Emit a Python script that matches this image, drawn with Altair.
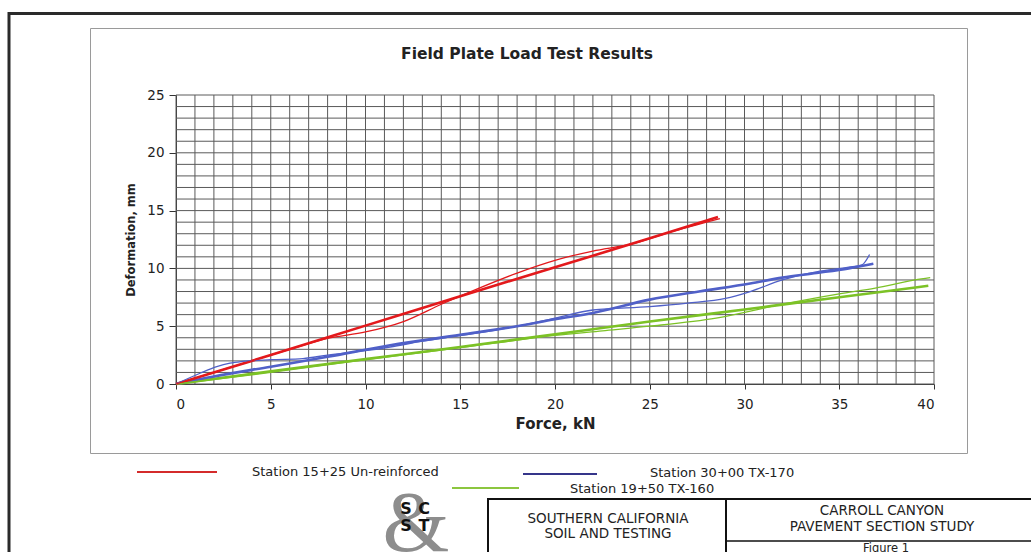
import altair as alt
import pandas as pd

# ---- measured load / deformation curves (force in kN, deformation in mm) ----
# Station 15+25, un-reinforced: two load runs
s1525_a_force = [0, 5, 10, 15, 20, 25, 28.6]
s1525_a_defl = [0, 2.5, 5.05, 7.6, 10.1, 12.6, 14.45]
s1525_b_force = [0, 2, 4, 6, 8, 10, 12, 14, 16, 18, 20, 22, 24, 26, 28.7]
s1525_b_defl = [0, 1.0, 2.0, 3.0, 3.95, 4.5, 5.4, 6.9, 8.3, 9.6, 10.7, 11.5, 12.1, 13.1, 14.3]

# Station 30+00, TX-170
s3000_a_force = [0, 2, 5, 8, 11.3, 15, 18, 20, 22, 25, 27.6, 30.3, 32, 33.8, 35.5, 36.8]
s3000_a_defl = [0, 0.65, 1.5, 2.35, 3.35, 4.25, 5.0, 5.6, 6.15, 7.3, 8.0, 8.7, 9.2, 9.6, 10.0, 10.4]
s3000_b_force = [0, 1.3, 2.15, 2.85, 3.5, 5, 6.7, 8, 10.1, 11.3, 13, 15, 18, 20, 22, 25, 27, 29,
                 30.3, 32, 33.8, 35.5, 36.2, 36.6]
s3000_b_defl = [0, 0.95, 1.5, 1.8, 1.95, 2.1, 2.2, 2.5, 2.9, 3.2, 3.7, 4.2, 5.0, 5.7, 6.4, 6.7, 7.0, 7.4,
                8.0, 9.0, 9.7, 10.1, 10.3, 11.2]

# Station 19+50, TX-160
s1950_a_force = [0, 5, 10, 15, 20, 25, 30, 35, 39.7]
s1950_a_defl = [0, 1.1, 2.15, 3.2, 4.3, 5.4, 6.45, 7.5, 8.5]
s1950_b_force = [0, 5, 10, 15, 20, 22.5, 25, 28.5, 32, 35, 36.9, 39, 39.8]
s1950_b_defl = [0, 1.0, 2.1, 3.15, 4.2, 4.6, 5.0, 5.7, 6.9, 7.8, 8.3, 9.0, 9.2]

legend_labels = ["Station 15+25 Un-reinforced", "Station 30+00 TX-170", "Station 19+50 TX-160"]

x_ticks = [0, 5, 10, 15, 20, 25, 30, 35, 40]
y_ticks = [0, 5, 10, 15, 20, 25]
x_grid = list(range(0, 41))
y_grid = list(range(0, 26))

FONT = "DejaVu Sans"
W, H = 758, 289          # plot area
PL, PT = 176, 95         # plot origin inside the 1031 x 552 page


def frame(name, xs, ys):
    return pd.DataFrame({"force": xs, "defl": ys, "run": name})


thick = pd.concat([
    frame("1950a", s1950_a_force, s1950_a_defl),
    frame("3000a", s3000_a_force, s3000_a_defl),
    frame("1525a", s1525_a_force, s1525_a_defl),
])
thin = pd.concat([
    frame("1950b", s1950_b_force, s1950_b_defl),
    frame("3000b", s3000_b_force, s3000_b_defl),
    frame("1525b", s1525_b_force, s1525_b_defl),
])

x_scale = alt.Scale(domain=[0, 40], nice=False, zero=True)
y_scale = alt.Scale(domain=[0, 25], nice=False, zero=True)

x_axis = alt.Axis(values=x_ticks, grid=False, tickSize=5, tickColor="#333", domainColor="#333",
                  labelFont=FONT, labelFontSize=13.5, labelColor="#222", labelPadding=8,
                  title="Force, kN", titleFont=FONT, titleFontSize=15, titleFontWeight="bold",
                  titleColor="#222", titlePadding=6)
y_axis = alt.Axis(values=y_ticks, grid=False, tickSize=7, tickColor="#333", domainColor="#333",
                  labelFont=FONT, labelFontSize=13.5, labelColor="#222", labelPadding=5,
                  title="Deformation, mm", titleFont=FONT, titleFontSize=11.5, titleFontWeight="bold",
                  titleColor="#222", titlePadding=10)

X = lambda f: alt.X(f, scale=x_scale, axis=x_axis)
Y = lambda f: alt.Y(f, scale=y_scale, axis=y_axis)

grid_v = alt.Chart(pd.DataFrame({"g": x_grid})).mark_rule(color="#5a5a5a", strokeWidth=1).encode(x=X("g:Q"))
grid_h = alt.Chart(pd.DataFrame({"g": y_grid})).mark_rule(color="#5a5a5a", strokeWidth=1).encode(y=Y("g:Q"))

thick_lines = alt.Chart(thick).mark_line(strokeWidth=2.6, interpolate="monotone").encode(
    x=X("force:Q"), y=Y("defl:Q"),
    color=alt.Color("run:N", legend=None,
                    scale=alt.Scale(domain=["1950a", "3000a", "1525a"],
                                    range=["#7cc226", "#5060c8", "#e3191c"])),
)
thin_lines = alt.Chart(thin).mark_line(strokeWidth=1.3, interpolate="monotone").encode(
    x=X("force:Q"), y=Y("defl:Q"),
    color=alt.Color("run:N", legend=None,
                    scale=alt.Scale(domain=["1950b", "3000b", "1525b"],
                                    range=["#92cf5c", "#1f1f73", "#c0302a"])),
)

one = pd.DataFrame({"k": [0]})


def box(x1, y1, x2, y2, color, sw):
    return alt.Chart(one).mark_rect(fillOpacity=0, stroke=color, strokeWidth=sw).encode(
        x=alt.value(x1 - PL), x2=alt.value(x2 - PL), y=alt.value(y1 - PT), y2=alt.value(y2 - PT))


def rule(x1, y1, x2, y2, color, sw):
    return alt.Chart(one).mark_rule(color=color, strokeWidth=sw).encode(
        x=alt.value(x1 - PL), x2=alt.value(x2 - PL), y=alt.value(y1 - PT), y2=alt.value(y2 - PT))


def label(s, x, y, size, bold=False, align="left", color="#222", font=FONT, baseline="middle"):
    return alt.Chart(one).mark_text(text=s, align=align, baseline=baseline, fontSize=size, font=font,
                                    fontWeight="bold" if bold else "normal", color=color).encode(
        x=alt.value(x - PL), y=alt.value(y - PT))


decor = [
    box(9, 13.5, 1045, 580, "#2a2a2a", 3),            # page frame
    box(90.5, 28.5, 967.5, 453.5, "#9a9a9a", 1),      # chart frame
    label("Field Plate Load Test Results", 527, 54, 15.5, bold=True, align="center"),
    # legend
    rule(137, 472, 217, 472, "#d42b2b", 2),
    label(legend_labels[0], 252, 472, 13),
    rule(523, 474, 597, 474, "#35358a", 2),
    label(legend_labels[1], 650, 473, 13),
    rule(452, 488, 519, 488, "#8cc63f", 2),
    label(legend_labels[2], 570, 489, 13),
    # company mark
    label("&", 416, 551, 86, color="#8d8d8d", font="Liberation Serif", align="center", baseline="alphabetic"),
    label("S", 406, 509, 16, bold=True, align="center", color="#111"),
    label("C", 424, 509, 16, bold=True, align="center", color="#111"),
    label("S", 406, 526, 16, bold=True, align="center", color="#111"),
    label("T", 424, 526, 16, bold=True, align="center", color="#111"),
    # title block
    box(488, 499, 1045, 580, "#111", 2),
    rule(726, 499, 726, 580, "#111", 2),
    rule(726, 541, 1045, 541, "#111", 1.5),
    label("SOUTHERN CALIFORNIA", 608, 519, 13.5, align="center"),
    label("SOIL AND TESTING", 608, 534, 13.5, align="center"),
    label("CARROLL CANYON", 882, 511, 13.5, align="center"),
    label("PAVEMENT SECTION STUDY", 882, 527, 13.5, align="center"),
    label("Figure 1", 886, 549, 11.5, align="center"),
]

chart = alt.layer(grid_v, grid_h, thick_lines, thin_lines, *decor).properties(
    width=W, height=H,
    autosize=alt.AutoSizeParams(type="none"),
    padding={"left": PL, "top": PT, "right": 1031 - PL - W, "bottom": 552 - PT - H},
    background="white",
).configure_view(stroke=None)

chart.save("out.html", embed_options={"renderer": "svg", "actions": False})
